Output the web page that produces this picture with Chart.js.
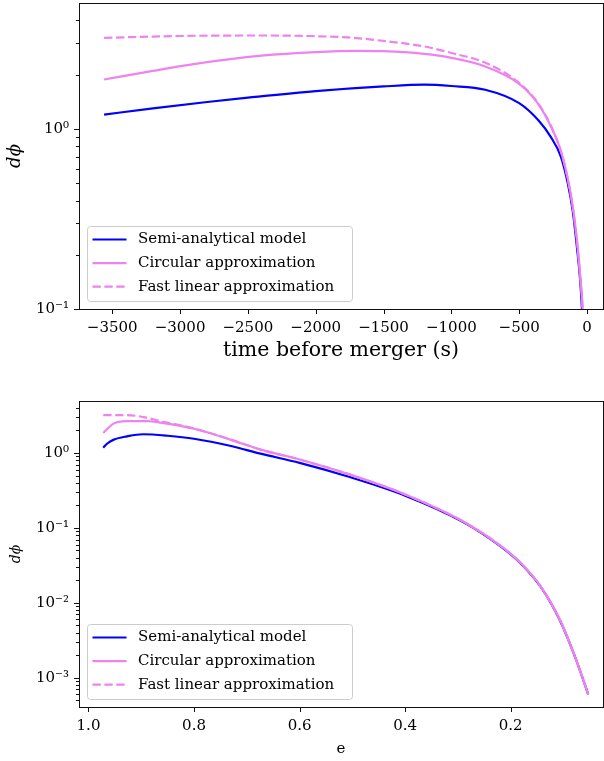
<!DOCTYPE html>
<html>
<head>
<meta charset="utf-8">
<script src="https://cdn.jsdelivr.net/npm/chart.js@4.4.1/dist/chart.umd.min.js"></script>
<style>
  body { margin: 0; background: #fff; }
  #wrap { position: relative; width: 604px; height: 761px; }
  .panel { position: absolute; left: 0; width: 604px; }
</style>
</head>
<body>
<div id="wrap">
  <div class="panel" style="top:0;height:370px"><canvas id="timeChart"></canvas></div>
  <div class="panel" style="top:380px;height:381px"><canvas id="eChart"></canvas></div>
</div>
<script>
// series names
const seriesLabels = ["Semi-analytical model", "Circular approximation", "Fast linear approximation"];

// top panel: dphi against time before merger (s)
const timeSemi = [-3560, -3200, -2800, -2500, -2000, -1500, -1200, -1000, -750, -500, -360, -266, -192, -142, -105, -74, -49, -37, -25];
const dphiSemiTime = [1.20, 1.30, 1.41, 1.49, 1.62, 1.72, 1.76, 1.73, 1.65, 1.39, 1.12, 0.90, 0.70, 0.50, 0.35, 0.22, 0.14, 0.10, 0.06];
const timeCirc = [-3560, -3200, -2900, -2400, -2000, -1700, -1500, -1200, -1000, -750, -500, -364, -266, -192, -142, -105, -74, -49, -32, -22];
const dphiCircTime = [1.88, 2.10, 2.29, 2.55, 2.67, 2.71, 2.70, 2.61, 2.48, 2.22, 1.78, 1.39, 1.03, 0.75, 0.53, 0.37, 0.24, 0.15, 0.10, 0.06];
const timeFast = [-3560, -3000, -2400, -2000, -1765, -1500, -1200, -1000, -750, -500, -364, -266, -192, -142, -105, -74, -49, -32, -22];
const dphiFastTime = [3.20, 3.28, 3.30, 3.27, 3.22, 3.08, 2.87, 2.64, 2.33, 1.80, 1.40, 1.04, 0.75, 0.53, 0.37, 0.24, 0.15, 0.10, 0.06];

// bottom panel: dphi against eccentricity e
const eSemi = [0.972, 0.965, 0.952, 0.927, 0.897, 0.85, 0.80, 0.73, 0.674, 0.60, 0.51, 0.40, 0.29, 0.2165, 0.18, 0.143, 0.107, 0.078, 0.053];
const dphiSemiE = [1.18, 1.33, 1.51, 1.67, 1.78, 1.70, 1.55, 1.24, 0.98, 0.74, 0.49, 0.27, 0.12, 0.055, 0.033, 0.0163, 0.0059, 0.0019, 0.0006];
const eCirc = [0.972, 0.9525, 0.927, 0.889, 0.864, 0.80, 0.73, 0.674, 0.60, 0.51, 0.40, 0.29, 0.2165, 0.18, 0.143, 0.107, 0.078, 0.053];
const dphiCircE = [1.85, 2.47, 2.67, 2.67, 2.55, 2.11, 1.50, 1.11, 0.82, 0.53, 0.28, 0.122, 0.056, 0.0335, 0.0165, 0.006, 0.0019, 0.0006];
const eFast = [0.972, 0.927, 0.896, 0.864, 0.80, 0.73, 0.674, 0.60, 0.51, 0.40, 0.29, 0.2165, 0.18, 0.143, 0.107, 0.078, 0.053];
const dphiFastE = [3.21, 3.21, 3.02, 2.67, 2.13, 1.51, 1.11, 0.82, 0.53, 0.28, 0.122, 0.056, 0.0335, 0.0165, 0.006, 0.0019, 0.0006];

// ticks
const timeTicks = [-3500, -3000, -2500, -2000, -1500, -1000, -500, 0];
const timeTickLabels = ["\u22123500", "\u22123000", "\u22122500", "\u22122000", "\u22121500", "\u22121000", "\u2212500", "0"];
const eTicks = [1.0, 0.8, 0.6, 0.4, 0.2];
const eTickLabels = ["1.0", "0.8", "0.6", "0.4", "0.2"];
const topMajor = [0.1, 1];
const topMajorLabels = ["10\u207B\u00B9", "10\u2070"];
const topMinor = [0.2, 0.3, 0.4, 0.5, 0.6, 0.7, 0.8, 0.9, 2, 3, 4];
const bottomMajor = [0.001, 0.01, 0.1, 1];
const bottomMajorLabels = ["10\u207B\u00B3", "10\u207B\u00B2", "10\u207B\u00B9", "10\u2070"];
const bottomMinor = [0.0005, 0.0006, 0.0007, 0.0008, 0.0009,
  0.002, 0.003, 0.004, 0.005, 0.006, 0.007, 0.008, 0.009,
  0.02, 0.03, 0.04, 0.05, 0.06, 0.07, 0.08, 0.09,
  0.2, 0.3, 0.4, 0.5, 0.6, 0.7, 0.8, 0.9, 2, 3, 4];

const BLUE = "#0000ff";
const VIOLET = "#ee82ee";
const FONT = "'DejaVu Serif', serif";

function pts(xs, ys) {
  return xs.map((x, i) => ({ x: x, y: ys[i] }));
}

function makeDatasets(a, b, c) {
  return [
    { label: seriesLabels[0], data: a, borderColor: BLUE, borderWidth: 2.2, order: 3 },
    { label: seriesLabels[1], data: b, borderColor: VIOLET, borderWidth: 2.2, order: 2 },
    { label: seriesLabels[2], data: c, borderColor: VIOLET, borderWidth: 2.2, borderDash: [8.3, 3.6], order: 1 },
  ];
}

// no extra room for half labels: the layout padding decides the plot box
function noPad(s) {
  s.paddingTop = 0; s.paddingBottom = 0; s.paddingLeft = 0; s.paddingRight = 0;
}

// ticks, spines and legend drawn the matplotlib way
const mplFrame = {
  id: "mplFrame",
  afterDraw(chart) {
    const { ctx, chartArea: a } = chart;
    const xs = chart.scales.x, ys = chart.scales.y;
    ctx.save();
    ctx.strokeStyle = "#111";
    ctx.lineWidth = 1;
    xs.ticks.forEach(t => {
      const px = Math.round(xs.getPixelForValue(t.value)) + 0.5;
      ctx.beginPath(); ctx.moveTo(px, a.bottom); ctx.lineTo(px, a.bottom + 5); ctx.stroke();
    });
    ys.ticks.forEach(t => {
      const py = Math.round(ys.getPixelForValue(t.value)) + 0.5;
      const len = t.mplMajor ? 5 : 3;
      ctx.beginPath(); ctx.moveTo(a.left, py); ctx.lineTo(a.left - len, py); ctx.stroke();
    });
    ctx.strokeRect(Math.round(a.left) + 0.5, Math.round(a.top) + 0.5,
      Math.round(a.right - a.left), Math.round(a.bottom - a.top));

    // legend box, lower left
    const lw = 265, lh = 75;
    const lx = a.left + 8, ly = a.bottom - 8 - lh;
    ctx.fillStyle = "rgba(255,255,255,0.8)";
    ctx.strokeStyle = "#cccccc";
    ctx.beginPath();
    ctx.roundRect(lx + 0.5, ly + 0.5, lw, lh, 3);
    ctx.fill(); ctx.stroke();
    chart.data.datasets.forEach((ds, i) => {
      const ry = ly + 13.5 + i * 23.6;
      ctx.strokeStyle = ds.borderColor;
      ctx.lineWidth = ds.borderWidth;
      ctx.setLineDash(ds.borderDash || []);
      ctx.beginPath(); ctx.moveTo(lx + 5.5, ry); ctx.lineTo(lx + 39.5, ry); ctx.stroke();
      ctx.setLineDash([]);
      ctx.fillStyle = "#000";
      ctx.font = "15px " + FONT;
      ctx.textBaseline = "middle";
      ctx.textAlign = "left";
      ctx.fillText(ds.label, lx + 51, ry);
    });
    ctx.restore();
  }
};

function makeChart(id, cfg) {
  return new Chart(document.getElementById(id), {
    type: "line",
    data: { datasets: cfg.datasets },
    plugins: [mplFrame],
    options: {
      responsive: true,
      maintainAspectRatio: false,
      animation: false,
      layout: { padding: { top: cfg.padTop, right: 1, left: 0, bottom: 0 } },
      plugins: { legend: { display: false }, tooltip: { enabled: false } },
      elements: {
        point: { radius: 0, hoverRadius: 0 },
        line: { cubicInterpolationMode: "monotone", fill: false }
      },
      scales: {
        x: {
          type: "linear",
          min: cfg.xMin, max: cfg.xMax, reverse: cfg.xReverse,
          grid: { display: false, drawTicks: false },
          border: { display: false },
          afterBuildTicks: s => { s.ticks = cfg.xTicks.map(v => ({ value: v })); },
          afterFit: s => { s.height = cfg.xHeight; noPad(s); },
          ticks: {
            padding: 10, color: "#000", autoSkip: false, maxRotation: 0,
            font: { family: FONT, size: 15 },
            callback: (v, i) => cfg.xTickLabels[i]
          },
          title: {
            display: true, text: cfg.xTitle, color: "#000",
            font: { family: FONT, size: cfg.xTitleSize },
            padding: { top: 0, bottom: cfg.xTitlePad }
          }
        },
        y: {
          type: "logarithmic",
          min: cfg.yMin, max: cfg.yMax,
          grid: { display: false, drawTicks: false },
          border: { display: false },
          afterBuildTicks: s => {
            const t = cfg.yMajor.map(v => ({ value: v, mplMajor: true }))
              .concat(cfg.yMinor.map(v => ({ value: v, mplMajor: false })));
            t.sort((p, q) => p.value - q.value);
            s.ticks = t;
          },
          afterFit: s => { s.width = 79; noPad(s); },
          ticks: {
            padding: 10, color: "#000", autoSkip: false,
            font: { family: FONT, size: 15 },
            callback: v => {
              const k = cfg.yMajor.indexOf(v);
              return k >= 0 ? cfg.yMajorLabels[k] : "";
            }
          },
          title: {
            display: true, text: "d\u03D5", color: "#000",
            font: { family: FONT, size: cfg.yTitleSize, style: "italic" },
            padding: { top: cfg.yTitlePad, bottom: 0 }
          }
        }
      }
    }
  });
}

makeChart("timeChart", {
  datasets: makeDatasets(pts(timeSemi, dphiSemiTime), pts(timeCirc, dphiCircTime), pts(timeFast, dphiFastTime)),
  padTop: 3,
  xMin: -3745, xMax: 118, xReverse: false,
  xTicks: timeTicks, xTickLabels: timeTickLabels,
  xHeight: 61, xTitle: "time before merger (s)", xTitleSize: 20.5, xTitlePad: 7,
  yMin: 0.1, yMax: 5.0, yMajor: topMajor, yMajorLabels: topMajorLabels, yMinor: topMinor,
  yTitleSize: 18, yTitlePad: 5
});

makeChart("eChart", {
  datasets: makeDatasets(pts(eSemi, dphiSemiE), pts(eCirc, dphiCircE), pts(eFast, dphiFastE)),
  padTop: 21,
  xMin: 0.025, xMax: 1.018, xReverse: true,
  xTicks: eTicks, xTickLabels: eTickLabels,
  xHeight: 54, xTitle: "e", xTitleSize: 15, xTitlePad: 3,
  yMin: 0.000406, yMax: 4.95, yMajor: bottomMajor, yMajorLabels: bottomMajorLabels, yMinor: bottomMinor,
  yTitleSize: 14, yTitlePad: 8
});
</script>
</body>
</html>
